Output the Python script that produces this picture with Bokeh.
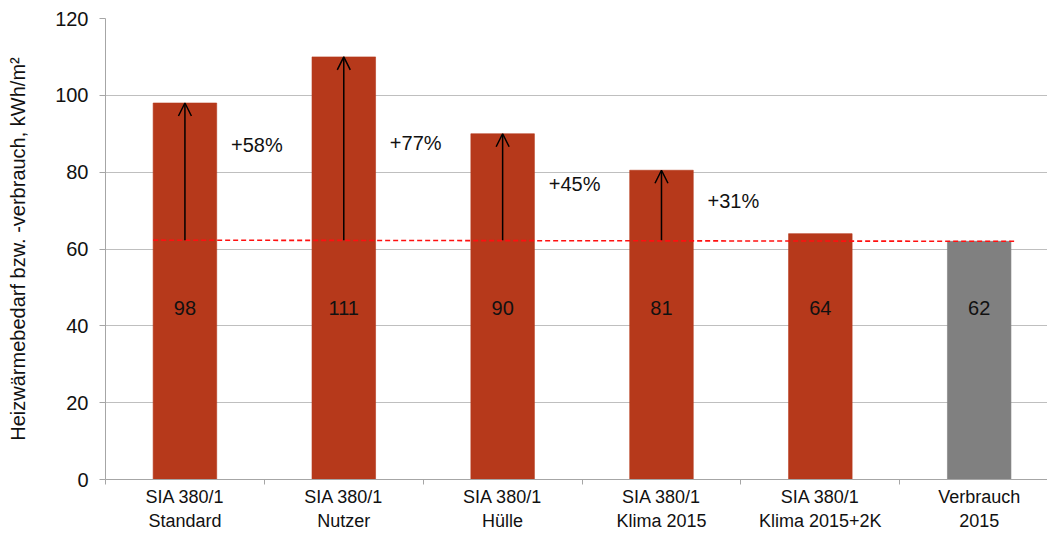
from bokeh.plotting import figure
from bokeh.models import (ColumnDataSource, FixedTicker, Arrow, OpenHead, Range1d)
from bokeh.core.properties import value
from bokeh.embed import file_html
from bokeh.resources import INLINE

categories = ["SIA 380/1\nStandard", "SIA 380/1\nNutzer", "SIA 380/1\nHülle",
              "SIA 380/1\nKlima 2015", "SIA 380/1\nKlima 2015+2K", "Verbrauch\n2015"]
bar_values = [98, 110, 90, 80.5, 64, 62]
value_labels = ["98", "111", "90", "81", "64", "62"]
bar_colors = ["#B6391B", "#B6391B", "#B6391B", "#B6391B", "#B6391B", "#808080"]
pct_labels = ["+58%", "+77%", "+45%", "+31%"]
pct_y = [87.2, 87.5, 76.8, 72.6]
reference_level = [62.3, 62.0]
y_ticks = [0, 20, 40, 60, 80, 100, 120]

FONT = "Liberation Sans"

n = len(categories)
xc = [i + 0.5 for i in range(n)]

p = figure(width=1047, height=533, output_backend="svg", toolbar_location=None,
           x_range=Range1d(0, 5.93), y_range=Range1d(0, 120),
           min_border_left=105, min_border_top=18, min_border_bottom=51, min_border_right=0)
p.outline_line_color = None
p.background_fill_color = "white"

src = ColumnDataSource(dict(x=xc, top=bar_values, color=bar_colors,
                            lab=value_labels, laby=[44.7] * n))
p.vbar(x="x", top="top", width=0.4, bottom=0, fill_color="color",
       line_color="color", line_alpha=0.6, source=src)

p.text(x="x", y="laby", text="lab", source=src, text_align="center",
       text_baseline="middle", text_font=value(FONT), text_font_size="20px",
       text_color="#111111")

# reference dashed line (Verbrauch 2015)
p.line(x=[xc[0] - 0.2, xc[-1] + 0.22], y=reference_level, line_color="#FF1010",
       line_width=1.6, line_dash="5 3")

# arrows
k = len(pct_labels)
asrc = ColumnDataSource(dict(x0=xc[:k], y0=[reference_level[0]] * k,
                             x1=xc[:k], y1=bar_values[:k]))
p.add_layout(Arrow(end=OpenHead(size=13, line_width=1.5, line_color="black"),
                   x_start="x0", y_start="y0", x_end="x1", y_end="y1",
                   line_width=1.5, line_color="black", source=asrc))

psrc = ColumnDataSource(dict(x=[x + 0.29 for x in xc[:k]], y=pct_y, t=pct_labels))
p.text(x="x", y="y", text="t", source=psrc, text_align="left", text_baseline="middle",
       text_font=value(FONT), text_font_size="20px", text_color="#111111")

# axes
p.xaxis.ticker = FixedTicker(ticks=xc, minor_ticks=list(range(n + 1)))
p.xaxis.major_label_overrides = {x: c for x, c in zip(xc, categories)}
p.xaxis.major_tick_out = 0
p.xaxis.major_tick_in = 0
p.xaxis.minor_tick_out = 5
p.xaxis.minor_tick_in = 0
p.xaxis.minor_tick_line_color = "#A6A6A6"
p.xaxis.axis_line_color = "#A6A6A6"
p.xaxis.major_label_text_font = FONT
p.xaxis.major_label_text_font_size = "18px"
p.xaxis.major_label_text_line_height = 1.22
p.xaxis.major_label_text_color = "#111111"
p.xaxis.major_label_standoff = 2

p.yaxis.ticker = FixedTicker(ticks=y_ticks, minor_ticks=[])
p.yaxis.major_tick_out = 6
p.yaxis.major_tick_in = 0
p.yaxis.major_tick_line_color = "#A6A6A6"
p.yaxis.axis_line_color = "#A6A6A6"
p.yaxis.major_label_text_font = FONT
p.yaxis.major_label_text_font_size = "20px"
p.yaxis.major_label_text_color = "#111111"
p.yaxis.major_label_standoff = 11
p.yaxis.axis_label = "Heizwärmebedarf bzw. -verbrauch, kWh/m²"
p.yaxis.axis_label_text_font = FONT
p.yaxis.axis_label_text_font_style = "normal"
p.yaxis.axis_label_text_font_size = "20px"
p.yaxis.axis_label_text_color = "#111111"
p.yaxis.axis_label_standoff = 23

p.xgrid.grid_line_color = None
p.ygrid.grid_line_color = "#BFBFBF"
p.ygrid.grid_line_width = 1

open("out.html", "w").write(file_html(p, INLINE))
